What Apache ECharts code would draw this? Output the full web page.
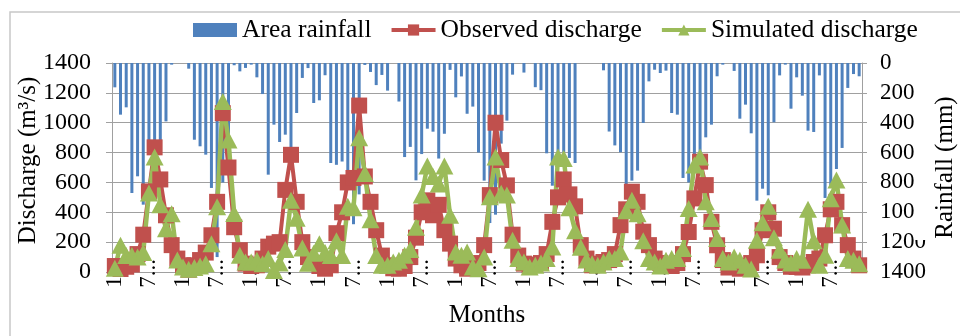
<!DOCTYPE html>
<html>
<head>
<meta charset="utf-8">
<script src="https://cdn.jsdelivr.net/npm/echarts@6/dist/echarts.min.js"></script>
<style>
  html, body { margin: 0; padding: 0; background: #fff; }
  #main { width: 960px; height: 336px; }
</style>
</head>
<body>
<div id="main"></div>
<script>
// month numbers of one year; the axis repeats them for every year
const months = ['1', '2', '3', '4', '5', '6', '7', '8', '9', '10', '11', '12'];
const yearCount = 11;

// monthly area rainfall (mm), right axis, drawn from the top
const rainfall = [
  163, 346, 297, 871, 759, 949, 560, 600, 560, 391, 11, 0,
  0, 38, 514, 558, 614, 837, 1300, 800, 500, 15, 56, 33,
  11, 96, 208, 748, 413, 529, 480, 600, 335, 100, 34, 268,
  250, 82, 670, 682, 660, 750, 1080, 880, 13, 60, 148, 80,
  185, 0, 258, 630, 562, 786, 610, 440, 460, 640, 474, 46,
  230, 90, 340, 292, 600, 788, 1072, 1016, 540, 386, 78, 0,
  64, 0, 162, 182, 605, 822, 596, 596, 636, 670, 0, 0,
  0, 0, 49, 459, 552, 598, 815, 788, 721, 402, 123, 45,
  67, 51, 335, 346, 770, 800, 700, 614, 498, 413, 89, 11,
  0, 53, 373, 279, 471, 922, 842, 886, 397, 83, 11, 306,
  96, 219, 453, 462, 83, 904, 837, 710, 569, 167, 74, 89
];

// observed discharge (m3/s)
const observed = [
  40, 20, 35, 50, 120, 250, 540, 835, 620, 380, 180, 90,
  45, 15, 45, 80, 130, 246, 470, 1064, 700, 300, 146, 56,
  40, 45, 90, 170, 190, 200, 550, 785, 470, 200, 100, 60,
  40, 22, 45, 260, 400, 600, 630, 1115, 640, 470, 280, 110,
  45, 25, 22, 40, 100, 230, 400, 480, 380, 450, 280, 190,
  90, 45, 22, 30, 60, 180, 515, 1000, 750, 580, 250, 110,
  56, 45, 50, 60, 120, 336, 500, 620, 520, 440, 180, 90,
  45, 56, 67, 80, 120, 314, 420, 538, 470, 270, 180, 90,
  60, 45, 40, 60, 120, 268, 493, 739, 582, 336, 179, 80,
  30, 34, 22, 40, 60, 112, 280, 400, 290, 100, 60, 35,
  34, 30, 45, 67, 90, 246, 420, 470, 314, 180, 90, 45
];

// simulated discharge (m3/s)
const simulated = [
  25, 180, 110, 110, 100, 130, 530, 770, 450, 290, 390, 80,
  34, 18, 30, 40, 56, 190, 437, 1142, 885, 392, 112, 67,
  67, 78, 56, 90, 10, 60, 150, 480, 360, 160, 58, 125,
  190, 130, 110, 210, 110, 440, 430, 900, 660, 350, 110, 45,
  45, 67, 78, 112, 150, 300, 515, 710, 640, 590, 710, 380,
  134, 112, 134, 34, 22, 100, 504, 770, 527, 515, 213, 90,
  67, 34, 45, 60, 90, 168, 770, 760, 430, 277, 165, 80,
  56, 45, 67, 90, 90, 134, 410, 480, 390, 210, 90, 67,
  40, 78, 90, 90, 157, 425, 717, 770, 470, 358, 224, 90,
  67, 100, 78, 45, 20, 213, 330, 440, 230, 146, 80, 60,
  90, 78, 420, 210, 45, 112, 490, 616, 315, 90, 78, 56
];

const categories = [];
for (let y = 0; y < yearCount; y++) {
  months.forEach(m => categories.push(m));
}

const font = 'Liberation Serif';
const gray = '#a0a0a0';

const chart = echarts.init(document.getElementById('main'), null, { renderer: 'canvas' });
chart.setOption({
  animation: false,
  textStyle: { fontFamily: font, color: '#000' },
  graphic: [
    {
      // outer chart frame
      type: 'rect',
      silent: true,
      shape: { x: 10, y: 12, width: 960, height: 330 },
      style: { fill: 'none', stroke: '#c8c8c8', lineWidth: 1.5 }
    },
    {
      // the rainfall axis title box hides the last digit of the long labels, as in the original
      type: 'rect',
      silent: true,
      z: 100,
      shape: { x: 915, y: 95, width: 16, height: 145 },
      style: { fill: '#fff' }
    }
  ],
  legend: {
    left: 188,
    top: 12,
    itemWidth: 44,
    itemHeight: 14,
    itemGap: 18,
    textStyle: { fontFamily: font, fontSize: 25.5, color: '#000' },
    data: [
      { name: 'Area rainfall', icon: 'rect' },
      { name: 'Observed discharge', lineStyle: { width: 4 } },
      { name: 'Simulated discharge', lineStyle: { width: 4 } }
    ]
  },
  grid: { left: 112, right: 98, top: 63, bottom: 64, outerBoundsMode: 'none' },
  xAxis: {
    type: 'category',
    data: categories,
    boundaryGap: true,
    name: 'Months',
    nameLocation: 'middle',
    nameGap: 31,
    nameTextStyle: { fontFamily: font, fontSize: 25, color: '#000' },
    axisLine: { lineStyle: { color: gray, width: 1 } },
    axisTick: { interval: 2, length: 5, lineStyle: { color: gray } },
    axisLabel: {
      interval: 5,
      rotate: 90,
      margin: -13,
      fontFamily: font,
      fontSize: 23,
      color: '#000',
      formatter: v => v + '...'
    }
  },
  yAxis: [
    {
      type: 'value',
      min: 0,
      max: 1400,
      interval: 200,
      name: 'Discharge (m³/s)',
      nameLocation: 'middle',
      nameRotate: 90,
      nameGap: 71,
      nameMoveOverlap: false,
      nameTextStyle: { fontFamily: font, fontSize: 25, color: '#000', padding: [0, 0, 0, 14] },
      axisLine: { show: true, lineStyle: { color: gray } },
      axisTick: { show: true, length: 6, lineStyle: { color: gray } },
      axisLabel: { margin: 21, fontFamily: font, fontSize: 24, color: '#000', formatter: v => String(v) },
      splitLine: { lineStyle: { color: gray, width: 1 } }
    },
    {
      type: 'value',
      inverse: true,
      min: 0,
      max: 1400,
      interval: 200,
      position: 'right',
      name: 'Rainfall (mm)',
      nameLocation: 'middle',
      nameRotate: 90,
      nameGap: 71,
      nameMoveOverlap: false,
      nameTextStyle: { fontFamily: font, fontSize: 25, color: '#000' },
      axisLine: { show: true, lineStyle: { color: gray } },
      axisTick: { show: true, length: 5, lineStyle: { color: gray } },
      axisLabel: { margin: 18, fontFamily: font, fontSize: 23, color: '#000', formatter: v => String(v) },
      splitLine: { show: false }
    }
  ],
  series: [
    {
      name: 'Area rainfall',
      type: 'bar',
      yAxisIndex: 1,
      barWidth: 3,
      itemStyle: { color: '#4f81bd' },
      data: rainfall
    },
    {
      name: 'Observed discharge',
      type: 'line',
      yAxisIndex: 0,
      symbol: 'rect',
      symbolSize: 16,
      showAllSymbol: true,
      lineStyle: { color: '#c0504d', width: 4 },
      itemStyle: { color: '#c0504d' },
      data: observed
    },
    {
      name: 'Simulated discharge',
      type: 'line',
      yAxisIndex: 0,
      symbol: 'triangle',
      symbolSize: [18, 17],
      showAllSymbol: true,
      lineStyle: { color: '#9bbb59', width: 4.5 },
      itemStyle: { color: '#9bbb59' },
      data: simulated
    }
  ]
});
</script>
</body>
</html>
